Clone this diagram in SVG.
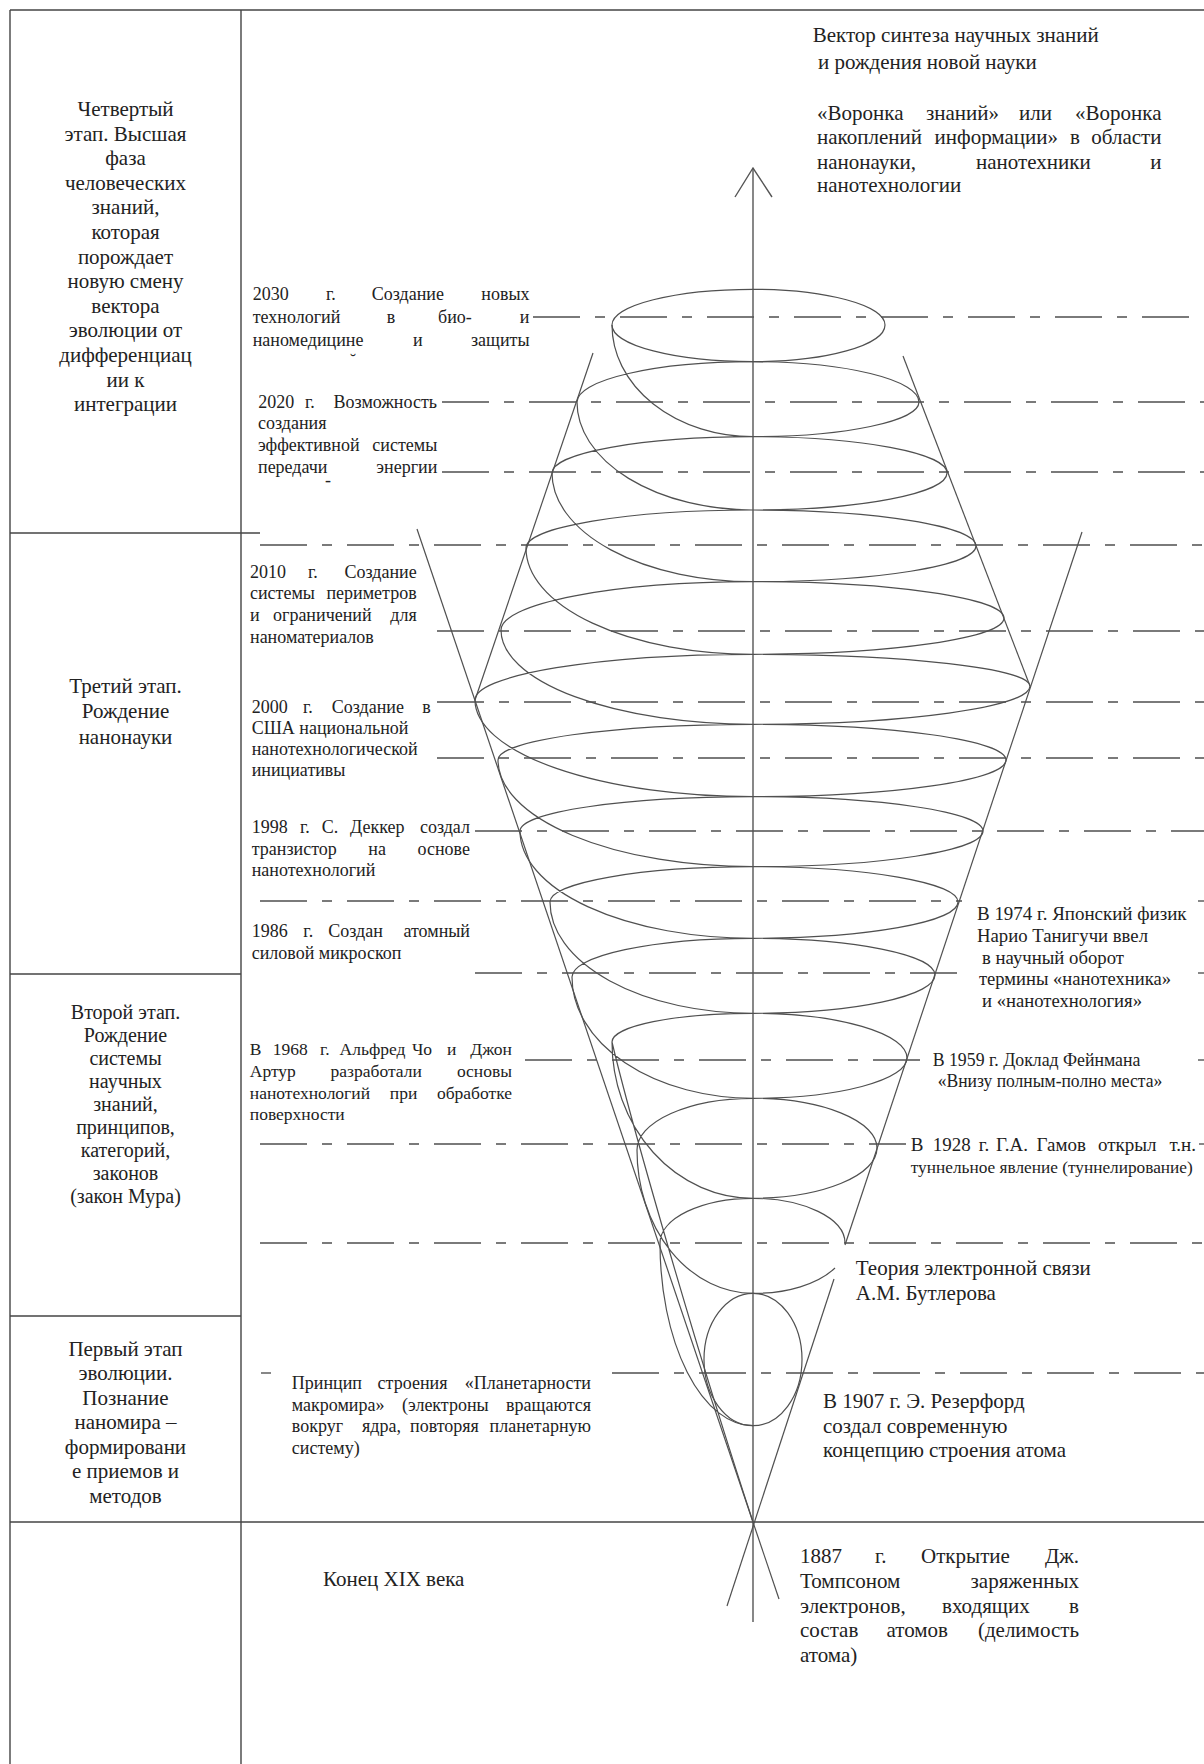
<svg xmlns="http://www.w3.org/2000/svg" width="1204" height="1764" viewBox="0 0 1204 1764">
<style>
text{font-family:"Liberation Serif","Times New Roman",serif;fill:#222}
.c21{font-size:21px;text-anchor:middle}
.c20{font-size:20px;text-anchor:middle}
.m18{font-size:18px}
.m17{font-size:17.5px}
.r21{font-size:21px}
.r19{font-size:19px}
.frame{stroke:#444;stroke-width:1.4;fill:none}
.dash{stroke:#7a7a7a;stroke-width:1.8;fill:none;stroke-dasharray:47 15 10 15}
.solid{stroke:#7a7a7a;stroke-width:1.8;fill:none}
.sp{stroke:#505050;stroke-width:1.2;fill:none}
.ax{stroke:#555;stroke-width:1.4;fill:none}
</style>
<rect width="1204" height="1764" fill="#fff"/>
<g id="frame">
<line class="frame" x1="10" y1="10" x2="1204" y2="10"/>
<line class="frame" x1="10" y1="10" x2="10" y2="1764"/>
<line class="frame" x1="241" y1="10" x2="241" y2="1764"/>
<line class="frame" x1="10" y1="533" x2="260" y2="533"/>
<line class="frame" x1="10" y1="974" x2="241" y2="974"/>
<line class="frame" x1="10" y1="1316" x2="241" y2="1316"/>
<line class="frame" x1="10" y1="1522" x2="1204" y2="1522"/>
</g>
<g id="connectors">
<line class="dash" x1="533" y1="317" x2="1204" y2="317"/>
<line class="dash" x1="442" y1="402" x2="1204" y2="402"/>
<line class="dash" x1="442" y1="472" x2="1204" y2="472"/>
<line class="dash" x1="260" y1="545" x2="1204" y2="545"/>
<line class="dash" x1="437" y1="631" x2="1204" y2="631"/>
<line class="dash" x1="437" y1="702" x2="1204" y2="702"/>
<line class="dash" x1="437" y1="758" x2="1204" y2="758"/>
<line class="dash" x1="475" y1="831" x2="1204" y2="831"/>
<line class="dash" x1="260" y1="901" x2="962" y2="901"/>
<line class="solid" x1="1198" y1="901" x2="1204" y2="901"/>
<line class="dash" x1="475" y1="973" x2="971" y2="973"/>
<line class="solid" x1="1198" y1="973" x2="1204" y2="973"/>
<line class="dash" x1="525" y1="1060" x2="925" y2="1060"/>
<line class="solid" x1="1198" y1="1060" x2="1204" y2="1060"/>
<line class="dash" x1="260" y1="1144" x2="906" y2="1144"/>
<line class="solid" x1="1199" y1="1144" x2="1204" y2="1144"/>
<line class="dash" x1="260" y1="1243" x2="1204" y2="1243"/>
<line class="solid" x1="261" y1="1373" x2="271" y2="1373"/>
<line class="dash" x1="612" y1="1373" x2="1204" y2="1373"/>
</g>
<g id="axis">
<line class="ax" x1="753" y1="168" x2="753" y2="1622"/>
<polyline class="ax" points="735,197 753,168 772,197"/>
</g>
<g id="funnel">
<line class="sp" x1="593" y1="353" x2="475" y2="700"/>
<line class="sp" x1="903" y1="356" x2="1030" y2="686"/>
<line class="sp" x1="417" y1="529" x2="779" y2="1599"/>
<line class="sp" x1="1082" y1="532" x2="845" y2="1245"/>
<line class="sp" x1="834" y1="1279" x2="727" y2="1606"/>
</g>
<g id="spiral">
<path class="sp" d="M753,289.3 A132,35.7 0 0 1 885,325 A132,36.7 0 0 1 753,361.7 A141,36.7 0 0 1 612,325 A141,35.7 0 0 1 753,289.3 Z"/>
<path class="sp" d="
M612,325 A141,111.7 0 0 0 753,436.7
M753,361.7 A176,40.3 0 0 0 577,402 M753,361.7 A166,40.3 0 0 1 919,402 A166,34.7 0 0 1 753,436.7 M577,402 A176,108 0 0 0 753,510
M753,436.7 A201,36.3 0 0 0 552,473 M753,436.7 A194,36.3 0 0 1 947,473 A194,37 0 0 1 753,510 M552,473 A201,108.7 0 0 0 753,581.7
M753,510 A227,38 0 0 0 526,548 M753,510 A223,36 0 0 1 976,546 A223,35.7 0 0 1 753,581.7 M526,548 A227,106.3 0 0 0 753,654.3
M753,581.7 A252,48.3 0 0 0 501,630 M753,581.7 A251,36.3 0 0 1 1004,618 A251,36.3 0 0 1 753,654.3 M501,630 A252,94.3 0 0 0 753,724.3
M753,654.3 A278,45.7 0 0 0 475,700 M753,654.3 A277,31.7 0 0 1 1030,686 A277,38.3 0 0 1 753,724.3 M475,700 A278,96.7 0 0 0 753,796.7
M753,724.3 A255,35.7 0 0 0 498,760 M753,724.3 A253,35.7 0 0 1 1006,760 A253,36.7 0 0 1 753,796.7 M498,760 A255,106.7 0 0 0 753,866.7
M753,796.7 A233,34.3 0 0 0 520,831 M753,796.7 A230,34.3 0 0 1 983,831 A230,35.7 0 0 1 753,866.7 M520,831 A233,107.3 0 0 0 753,938.3
M753,866.7 A203,35.3 0 0 0 550,902 M753,866.7 A205,35.3 0 0 1 958,902 A205,36.3 0 0 1 753,938.3 M550,902 A203,111.3 0 0 0 753,1013.3
M753,938.3 A181,38.7 0 0 0 572,977 M753,938.3 A182,36.7 0 0 1 935,975 A182,38.3 0 0 1 753,1013.3 M572,977 A181,121.3 0 0 0 753,1098.3
M753,1013.3 A141,28.7 0 0 0 612,1042 M753,1013.3 A154,44.7 0 0 1 907,1058 A154,40.3 0 0 1 753,1098.3 M612,1042 A141,156.3 0 0 0 753,1198.3
M753,1098.3 A116,51.7 0 0 0 637,1150 M753,1098.3 A124,49.7 0 0 1 877,1148 A124,50.3 0 0 1 753,1198.3 M637,1150 A116,143.3 0 0 0 753,1293.3
M753,1198.3 A93,44.7 0 0 0 660,1243 M753,1198.3 A92,44.7 0 0 1 845,1243 M835,1268 A92,50.3 0 0 1 753,1293.3 M660,1243 A93,182.7 0 0 0 753,1425.7
M612,1042 C628,1110 690,1330 753,1522"/>
<ellipse class="sp" cx="753" cy="1359.5" rx="49" ry="66.2"/>
</g>
<g id="stage4">
<text class="c21" x="125.5" y="116">Четвертый</text>
<text class="c21" x="125.5" y="140.6">этап. Высшая</text>
<text class="c21" x="125.5" y="165.2">фаза</text>
<text class="c21" x="125.5" y="189.8">человеческих</text>
<text class="c21" x="125.5" y="214.4">знаний,</text>
<text class="c21" x="125.5" y="239">которая</text>
<text class="c21" x="125.5" y="263.6">порождает</text>
<text class="c21" x="125.5" y="288.2">новую смену</text>
<text class="c21" x="125.5" y="312.8">вектора</text>
<text class="c21" x="125.5" y="337.4">эволюции от</text>
<text class="c21" x="125.5" y="362">дифференциац</text>
<text class="c21" x="125.5" y="386.6">ии к</text>
<text class="c21" x="125.5" y="411.2">интеграции</text>
</g>
<g id="stage3">
<text class="c21" x="125.5" y="693">Третий этап.</text>
<text class="c21" x="125.5" y="718">Рождение</text>
<text class="c21" x="125.5" y="744">нанонауки</text>
</g>
<g id="stage2">
<text class="c20" x="125.5" y="1018.5">Второй этап.</text>
<text class="c20" x="125.5" y="1041.6">Рождение</text>
<text class="c20" x="125.5" y="1064.7">системы</text>
<text class="c20" x="125.5" y="1087.8">научных</text>
<text class="c20" x="125.5" y="1110.9">знаний,</text>
<text class="c20" x="125.5" y="1134">принципов,</text>
<text class="c20" x="125.5" y="1157.1">категорий,</text>
<text class="c20" x="125.5" y="1180.2">законов</text>
<text class="c20" x="125.5" y="1203.3">(закон Мура)</text>
</g>
<g id="stage1">
<text class="c21" x="125.5" y="1355.5">Первый этап</text>
<text class="c21" x="125.5" y="1380">эволюции.</text>
<text class="c21" x="125.5" y="1404.5">Познание</text>
<text class="c21" x="125.5" y="1429">наномира –</text>
<text class="c21" x="125.5" y="1453.5">формировани</text>
<text class="c21" x="125.5" y="1478">е приемов и</text>
<text class="c21" x="125.5" y="1502.5">методов</text>
</g>
<g id="label-2030">
<text class="m18" y="299.5"><tspan x="252.7">2030</tspan><tspan x="326">г.</tspan><tspan x="371.7">Создание</tspan><tspan x="529.5" text-anchor="end">новых</tspan></text>
<text class="m18" y="323"><tspan x="252.7">технологий</tspan><tspan x="386.7">в</tspan><tspan x="438">био-</tspan><tspan x="529.5" text-anchor="end">и</tspan></text>
<text class="m18" y="346"><tspan x="252.7">наномедицине</tspan><tspan x="413">и</tspan><tspan x="529.5" text-anchor="end">защиты</tspan></text>
<text class="m18" x="353" y="367" text-anchor="middle">˘</text>
</g>
<g id="label-2020">
<text class="m18" y="407.7"><tspan x="258.3">2020</tspan><tspan x="305">г.</tspan><tspan x="437" text-anchor="end">Возможность</tspan></text>
<text class="m18" x="258" y="429.3">создания</text>
<text class="m18" y="451"><tspan x="258">эффективной</tspan><tspan x="437.3" text-anchor="end">системы</tspan></text>
<text class="m18" y="472.7"><tspan x="258">передачи</tspan><tspan x="437.3" text-anchor="end">энергии</tspan></text>
<text class="m18" x="328" y="486" text-anchor="middle">-</text>
</g>
<g id="label-2010">
<text class="m18" y="577.7"><tspan x="250">2010</tspan><tspan x="308">г.</tspan><tspan x="416.7" text-anchor="end">Создание</tspan></text>
<text class="m18" y="599.3"><tspan x="250">системы</tspan><tspan x="416.7" text-anchor="end">периметров</tspan></text>
<text class="m18" y="621"><tspan x="250">и</tspan><tspan x="273">ограничений</tspan><tspan x="416.7" text-anchor="end">для</tspan></text>
<text class="m18" x="250" y="642.7">наноматериалов</text>
</g>
<g id="label-2000">
<text class="m18" y="712.7"><tspan x="251.7">2000</tspan><tspan x="303">г.</tspan><tspan x="331.7">Создание</tspan><tspan x="430.7" text-anchor="end">в</tspan></text>
<text class="m18" x="251.7" y="734.3">США национальной</text>
<text class="m18" x="251.7" y="755.3">нанотехнологической</text>
<text class="m18" x="251.7" y="776">инициативы</text>
</g>
<g id="label-1998">
<text class="m18" y="833.3"><tspan x="251.7">1998</tspan><tspan x="300">г.</tspan><tspan x="321.7">С.</tspan><tspan x="350">Деккер</tspan><tspan x="470" text-anchor="end">создал</tspan></text>
<text class="m18" y="854.8"><tspan x="251.7">транзистор</tspan><tspan x="368.3">на</tspan><tspan x="470" text-anchor="end">основе</tspan></text>
<text class="m18" x="251.7" y="876.3">нанотехнологий</text>
</g>
<g id="label-1986">
<text class="m18" y="936.7"><tspan x="251.7">1986</tspan><tspan x="303.3">г.</tspan><tspan x="328.3">Создан</tspan><tspan x="470" text-anchor="end">атомный</tspan></text>
<text class="m18" x="251.7" y="959.3">силовой микроскоп</text>
</g>
<g id="label-1968">
<text class="m17" y="1054.6"><tspan x="249.8">В</tspan><tspan x="272.7">1968</tspan><tspan x="320">г.</tspan><tspan x="339.6">Альфред</tspan><tspan x="412">Чо</tspan><tspan x="447">и</tspan><tspan x="512" text-anchor="end">Джон</tspan></text>
<text class="m17" y="1076.7"><tspan x="249.8">Артур</tspan><tspan x="330.6">разработали</tspan><tspan x="512" text-anchor="end">основы</tspan></text>
<text class="m17" y="1098.9"><tspan x="249.8">нанотехнологий</tspan><tspan x="389.8">при</tspan><tspan x="512" text-anchor="end">обработке</tspan></text>
<text class="m17" x="249.8" y="1120.3">поверхности</text>
</g>
<g id="label-planet">
<text class="m18" y="1389"><tspan x="291.8">Принцип</tspan><tspan x="377.6">строения</tspan><tspan x="591" text-anchor="end">«Планетарности</tspan></text>
<text class="m18" y="1410.6"><tspan x="291.8">макромира»</tspan><tspan x="402">(электроны</tspan><tspan x="591" text-anchor="end">вращаются</tspan></text>
<text class="m18" y="1432"><tspan x="291.8">вокруг</tspan><tspan x="362">ядра,</tspan><tspan x="410">повторяя</tspan><tspan x="591" text-anchor="end">планетарную</tspan></text>
<text class="m18" x="291.8" y="1453.5">систему)</text>
</g>
<g id="label-xix">
<text class="r21" x="323" y="1585.5">Конец XIX века</text>
</g>
<g id="label-vector">
<text class="r21" x="812.7" y="42">Вектор синтеза научных знаний</text>
<text class="r21" x="818" y="68.7">и рождения новой науки</text>
</g>
<g id="label-funnel">
<text class="r21" y="120.3"><tspan x="817">«Воронка</tspan><tspan x="926">знаний»</tspan><tspan x="1019">или</tspan><tspan x="1161.5" text-anchor="end">«Воронка</tspan></text>
<text class="r21" y="144.3"><tspan x="817">накоплений</tspan><tspan x="934.6">информации»</tspan><tspan x="1070">в</tspan><tspan x="1161.5" text-anchor="end">области</tspan></text>
<text class="r21" y="168.7"><tspan x="817">нанонауки,</tspan><tspan x="976">нанотехники</tspan><tspan x="1161.5" text-anchor="end">и</tspan></text>
<text class="r21" x="817" y="192">нанотехнологии</text>
</g>
<g id="label-1974">
<text class="r19" x="977" y="919.8" textLength="209.5" lengthAdjust="spacingAndGlyphs">В 1974 г. Японский физик</text>
<text class="r19" x="977" y="941.5" textLength="171" lengthAdjust="spacingAndGlyphs">Нарио Танигучи ввел</text>
<text class="r19" x="982" y="963.8" textLength="142" lengthAdjust="spacingAndGlyphs">в научный оборот</text>
<text class="r19" x="979" y="984.8" textLength="192" lengthAdjust="spacingAndGlyphs">термины «нанотехника»</text>
<text class="r19" x="982" y="1006.5" textLength="160" lengthAdjust="spacingAndGlyphs">и «нанотехнология»</text>
</g>
<g id="label-1959">
<text class="r19" x="932.7" y="1065.8" textLength="207.7" lengthAdjust="spacingAndGlyphs">В 1959 г. Доклад Фейнмана</text>
<text class="r19" x="937.7" y="1087.2" textLength="224.6" lengthAdjust="spacingAndGlyphs">«Внизу полным-полно места»</text>
</g>
<g id="label-1928">
<text class="r19" y="1150.8"><tspan x="910.8">В</tspan><tspan x="932.7">1928</tspan><tspan x="978.8">г.</tspan><tspan x="996">Г.А.</tspan><tspan x="1036.5">Гамов</tspan><tspan x="1098">открыл</tspan><tspan x="1196" text-anchor="end">т.н.</tspan></text>
<text x="910.8" y="1172.5" style="font-size:17.3px">туннельное явление (туннелирование)</text>
</g>
<g id="label-butlerov">
<text class="r21" x="855.8" y="1274.6">Теория электронной связи</text>
<text class="r21" x="855.8" y="1299.8">А.М. Бутлерова</text>
</g>
<g id="label-1907">
<text class="r21" x="823" y="1407.7">В 1907 г. Э. Резерфорд</text>
<text class="r21" x="823" y="1433">создал современную</text>
<text class="r21" x="823" y="1457">концепцию строения атома</text>
</g>
<g id="label-1887">
<text class="r21" y="1563"><tspan x="800">1887</tspan><tspan x="875">г.</tspan><tspan x="921">Открытие</tspan><tspan x="1079" text-anchor="end">Дж.</tspan></text>
<text class="r21" y="1587.6"><tspan x="800">Томпсоном</tspan><tspan x="1079" text-anchor="end">заряженных</tspan></text>
<text class="r21" y="1612.8"><tspan x="800">электронов,</tspan><tspan x="942">входящих</tspan><tspan x="1079" text-anchor="end">в</tspan></text>
<text class="r21" y="1636.9"><tspan x="800">состав</tspan><tspan x="886.5">атомов</tspan><tspan x="1079" text-anchor="end">(делимость</tspan></text>
<text class="r21" x="800" y="1662">атома)</text>
</g>
</svg>
